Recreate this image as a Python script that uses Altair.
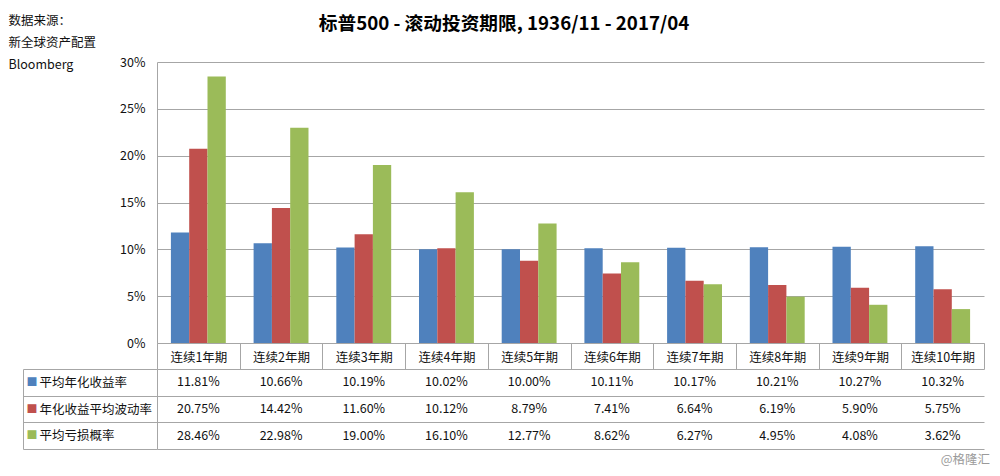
import altair as alt
import pandas as pd

categories = ["连续1年期", "连续2年期", "连续3年期", "连续4年期", "连续5年期",
              "连续6年期", "连续7年期", "连续8年期", "连续9年期", "连续10年期"]
series = ["平均年化收益率", "年化收益平均波动率", "平均亏损概率"]
avg_return = [11.81, 10.66, 10.19, 10.02, 10.00, 10.11, 10.17, 10.21, 10.27, 10.32]
volatility = [20.75, 14.42, 11.60, 10.12, 8.79, 7.41, 6.64, 6.19, 5.90, 5.75]
loss_prob = [28.46, 22.98, 19.00, 16.10, 12.77, 8.62, 6.27, 4.95, 4.08, 3.62]
colors = ["#4F81BD", "#C0504D", "#9BBB59"]
y_ticks = [0, 0.05, 0.10, 0.15, 0.20, 0.25, 0.30]
source_lines = ["数据来源：", "新全球资产配置", "Bloomberg"]
title_text = "标普500 - 滚动投资期限, 1936/11 - 2017/04"
watermark = "@格隆汇"

FONT = "Noto Sans CJK SC"
LINE = "#A6A6A6"
TXT = "#111111"

rows = []
for s, vals in zip(series, [avg_return, volatility, loss_prob]):
    for c, v in zip(categories, vals):
        rows.append({"category": c, "series": s, "value": v / 100.0, "label": f"{v:.2f}%"})
df = pd.DataFrame(rows)

# ---------- bar chart ----------
bars = alt.Chart(df).mark_bar().encode(
    x=alt.X("category:N", sort=categories,
            scale=alt.Scale(paddingInner=0, paddingOuter=0),
            axis=alt.Axis(title=None, labelAngle=0, tickBand="extent", tickSize=26,
                          tickColor=LINE, domainColor=LINE, labelPadding=-18,
                          labelFontSize=12.5, labelColor=TXT, labelFont=FONT)),
    xOffset=alt.XOffset("series:N", sort=series,
                        scale=alt.Scale(paddingInner=0, paddingOuter=0.76)),
    y=alt.Y("value:Q", scale=alt.Scale(domain=[0, 0.3], nice=False),
            axis=alt.Axis(values=y_ticks, format=".0%", ticks=False, labelPadding=12,
                          gridColor=LINE, domainColor=LINE, labelFontSize=12.5,
                          labelColor=TXT, labelFont=FONT,
                          title=source_lines, titleAngle=0, titleAlign="left",
                          titleBaseline="top", titleX=-149, titleY=-48,
                          titleFontWeight="normal", titleFontSize=12.5,
                          titleLineHeight=22, titleColor=TXT, titleFont=FONT)),
    color=alt.Color("series:N", sort=series,
                    scale=alt.Scale(domain=series, range=colors), legend=None),
).properties(width=827, height=281)

# ---------- data table ----------
table_text = alt.Chart(df).mark_text(font=FONT, fontSize=12.5, color=TXT).encode(
    x=alt.X("category:N", sort=categories,
            scale=alt.Scale(paddingInner=0, paddingOuter=0),
            axis=alt.Axis(title=None, labels=False, ticks=False, domain=False,
                          grid=True, tickBand="extent", gridColor=LINE)),
    y=alt.Y("series:N", sort=series,
            scale=alt.Scale(paddingInner=0, paddingOuter=0),
            axis=alt.Axis(title=None, tickBand="extent", tickSize=134, tickColor=LINE,
                          domain=True, domainColor=LINE, grid=True, gridColor=LINE,
                          labelAlign="left", labelPadding=-16, labelFontSize=12.5,
                          labelColor=TXT, labelFont=FONT)),
    text="label:N",
)

table_marks = alt.Chart(df).mark_text(opacity=0, font=FONT).encode(
    x=alt.X("category:N", sort=categories, axis=None),
    y=alt.Y("series:N", sort=series,
            scale=alt.Scale(paddingInner=0, paddingOuter=0),
            axis=alt.Axis(orient="left", offset=134, title=None, ticks=False,
                          domain=True, domainColor=LINE, grid=False,
                          labelExpr="'■'", labelAlign="left", labelPadding=-3,
                          labelFontSize=11, labelFont=FONT,
                          labelColor={"condition": [
                              {"test": f"datum.value === '{series[0]}'", "value": colors[0]},
                              {"test": f"datum.value === '{series[1]}'", "value": colors[1]}],
                              "value": colors[2]})),
    text="label:N",
)

table = alt.layer(table_text, table_marks).resolve_scale(y="independent").properties(
    width=827, height=80,
    title=alt.TitleParams(watermark, orient="bottom", anchor="end", frame="group",
                          dx=6, offset=4, fontSize=12.5, fontWeight="normal",
                          font=FONT, color="#9A9A9A"),
)

chart = alt.vconcat(bars, table, spacing=26, bounds="flush").properties(
    title=alt.TitleParams(title_text, anchor="middle", fontSize=18.7, fontWeight="bold",
                          font=FONT, color="#000000", offset=-20, dx=5),
    padding={"left": 0, "top": 6, "right": 0, "bottom": 0},
).configure_view(stroke=None)

chart.save("out.html", embed_options={"renderer": "svg", "actions": False})
